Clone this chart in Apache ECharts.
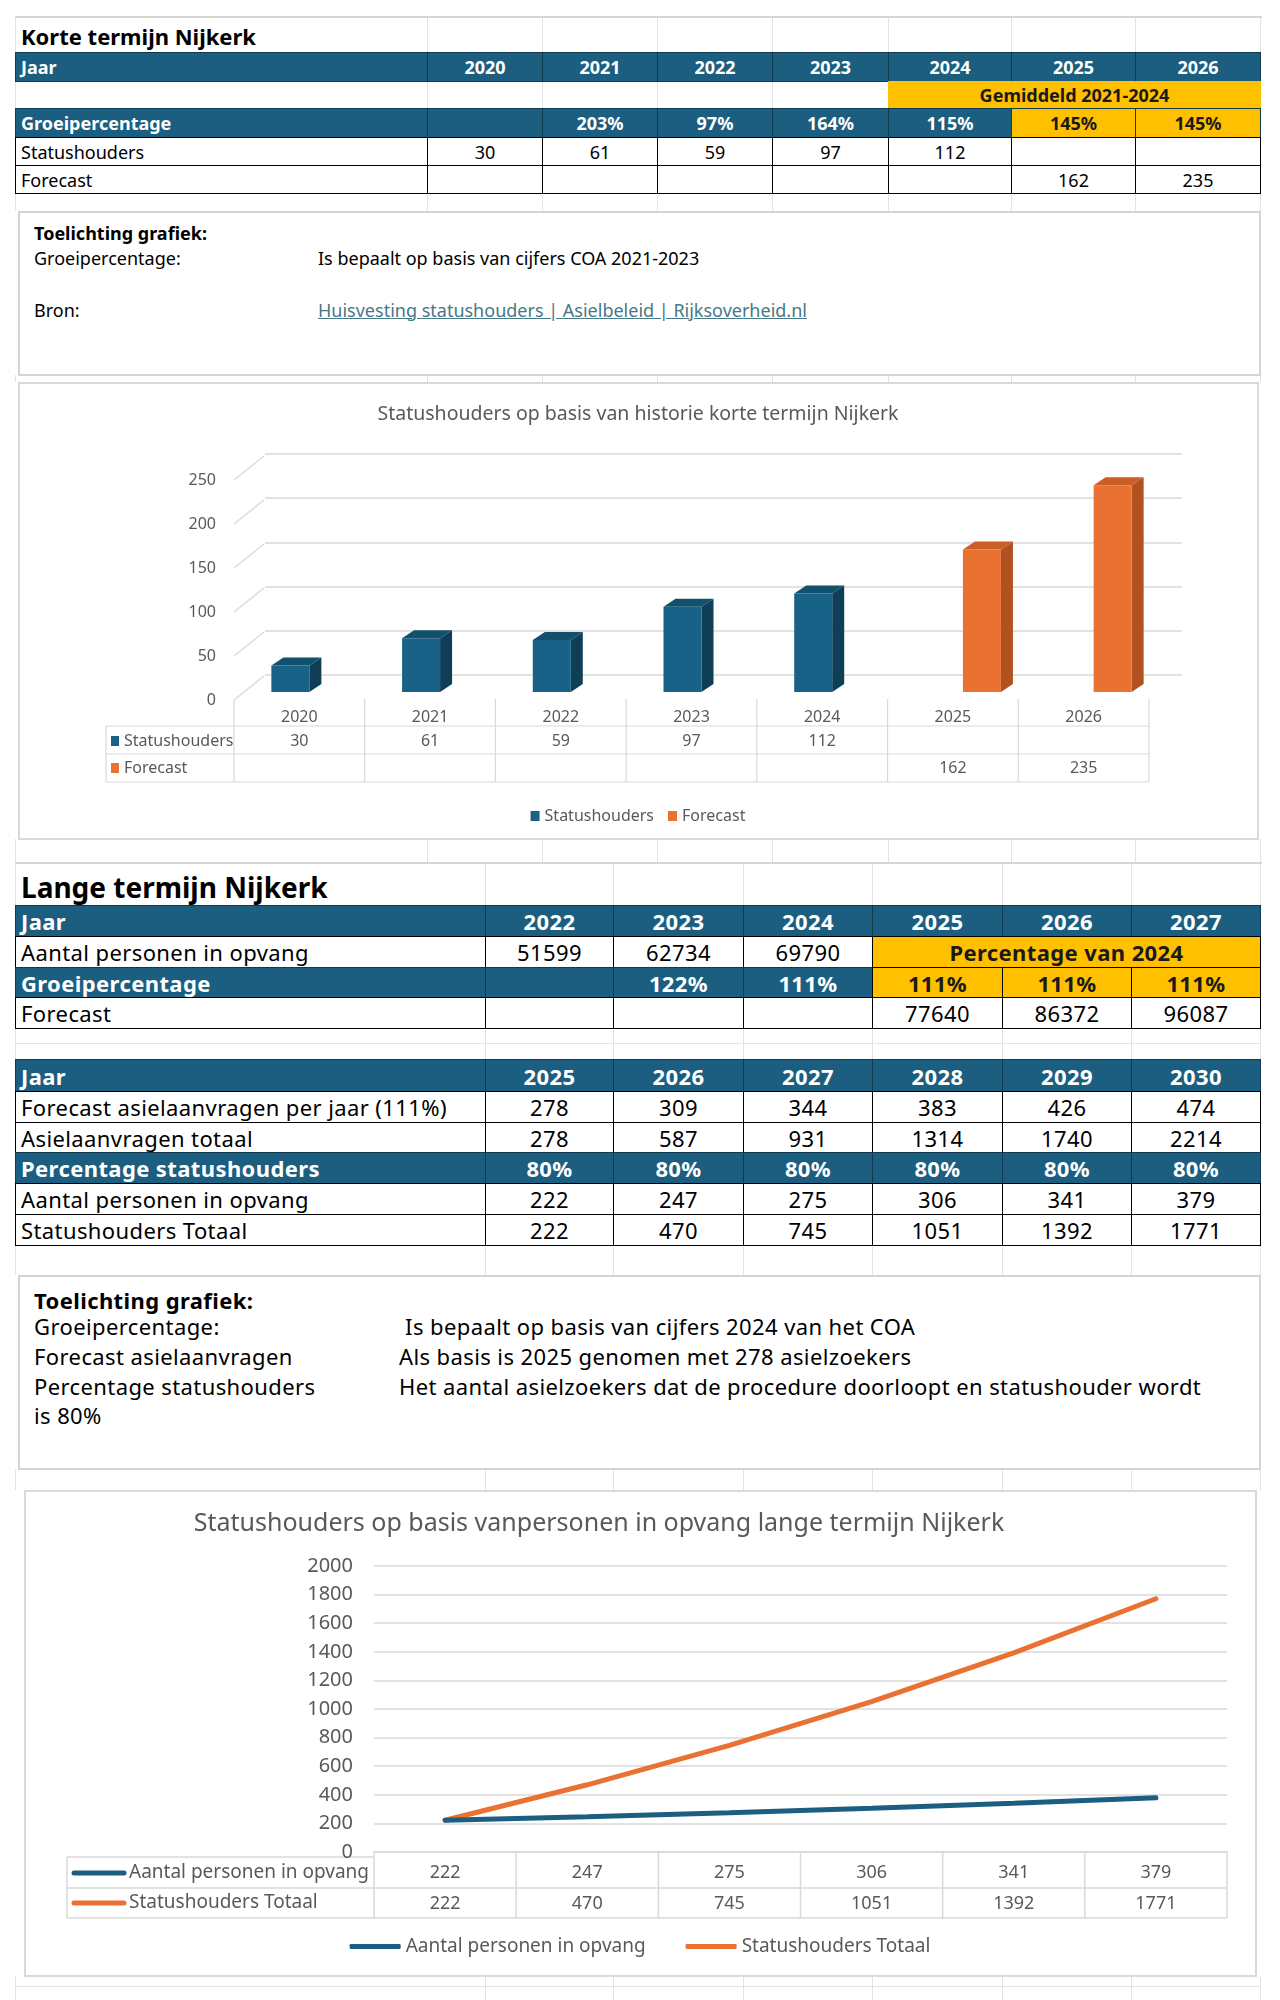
<!DOCTYPE html>
<html><head><meta charset="utf-8">
<script src="https://cdn.jsdelivr.net/npm/echarts/dist/echarts.min.js"></script>
<style>
html,body{margin:0;padding:0;background:#fff;}
#page{position:relative;width:1280px;height:2000px;overflow:hidden;font-family:'Noto Sans','Open Sans',sans-serif;}
#page div{font-family:inherit;}
</style></head>
<body><div id="page"></div>
<script>
// ---------- DATA ----------
const korteJaren = ['2020','2021','2022','2023','2024','2025','2026'];
const korteGroei = ['', '203%', '97%', '164%', '115%', '145%', '145%'];
const korteStatushouders = [30, 61, 59, 97, 112, null, null];
const korteForecast = [null, null, null, null, null, 162, 235];
const korteTicks = [0, 50, 100, 150, 200, 250];

const langeJaren = ['2022','2023','2024','2025','2026','2027'];
const opvangTotaal = [51599, 62734, 69790];
const langeGroei = ['', '122%', '111%', '111%', '111%', '111%'];
const langeForecast = [null, null, null, 77640, 86372, 96087];

const jaren2 = ['2025','2026','2027','2028','2029','2030'];
const forecastAsiel = [278, 309, 344, 383, 426, 474];
const asielTotaal = [278, 587, 931, 1314, 1740, 2214];
const pctStatus = ['80%','80%','80%','80%','80%','80%'];
const aantalOpvang = [222, 247, 275, 306, 341, 379];
const statusTotaal = [222, 470, 745, 1051, 1392, 1771];

// ---------- STYLE ----------
const FONT = "'Noto Sans','Open Sans',sans-serif";
const DARK = '#1B5E80';
const DARKB = '#0F3A50';
const YEL = '#FFC000';
const GRID = '#E3E3E3';
const GREY = '#595959';
const page = document.getElementById('page');

function el(x, y, w, h, css, text) {
  const d = document.createElement('div');
  d.style.cssText = `position:absolute;left:${x}px;top:${y}px;width:${w}px;height:${h}px;box-sizing:border-box;` + (css || '');
  if (text != null) d.textContent = text;
  page.appendChild(d);
  return d;
}
function vlines(cols, y1, y2, color) { cols.forEach(x => el(x, y1, 1, y2 - y1, 'background:' + color)); }
function hline(x1, x2, y, color, t) { el(x1, y, x2 - x1, t || 1, 'background:' + color); }
function cell(x1, x2, y1, y2, text, o) {
  o = o || {};
  const left = o.align === 'left';
  return el(x1, y1, x2 - x1 + 1, y2 - y1 + 1,
    `display:flex;align-items:center;justify-content:${left ? 'flex-start' : 'center'};padding-left:${left ? 5 : 0}px;` +
    `background:${o.bg || 'transparent'};border:${o.border || 'none'};color:${o.color || '#000'};` +
    `font-size:${o.size}px;letter-spacing:${o.ls || 0}px;font-weight:${o.bold ? 'bold' : 'normal'};white-space:nowrap;`, text == null ? '' : String(text));
}
function txt(x, yc, text, size, o) {
  o = o || {};
  return el(x, yc - size * 0.75, 1200, size * 1.5,
    `font-size:${size}px;line-height:${size * 1.5}px;white-space:pre;letter-spacing:${o.ls || 0}px;color:${o.color || '#000'};font-weight:${o.bold ? 'bold' : 'normal'};` +
    (o.underline ? 'text-decoration:underline;' : ''), text);
}

// ---------- SHEET BACKGROUND GRID ----------
const colsTop = [15, 427, 542, 657, 772, 888, 1011, 1135, 1260];
const colsLow = [15, 485, 613, 743, 872, 1002, 1131, 1260];
hline(15, 1262, 16, '#D6D6D6', 2);
vlines(colsTop, 18, 52, GRID);
vlines(colsTop, 193, 211, GRID);
vlines(colsTop, 375, 382, GRID);
vlines(colsTop, 839, 862, GRID);
hline(15, 1262, 862, '#D6D6D6', 2);
vlines(colsLow, 864, 905, GRID);
vlines(colsLow, 1028, 1059, GRID);
hline(15, 1260, 1043, GRID);
vlines(colsLow, 1245, 1275, GRID);
vlines(colsLow, 1469, 1490, GRID);
vlines(colsLow, 1976, 2000, GRID);
hline(15, 1260, 1986, GRID);
vlines(colsTop.slice(0, 6), 81, 108, GRID);

// ---------- KORTE TERMIJN TABLE ----------
txt(21, 36, 'Korte termijn Nijkerk', 22, { bold: true });
const S1 = 18;
const hdr = { bg: DARK, border: '1px solid ' + DARKB, color: '#fff', bold: true, size: S1 };
const wht = { border: '1px solid #000', size: S1 };
const yel = { bg: YEL, border: '1px solid ' + DARKB, color: '#1a1a1a', bold: true, size: S1 };
cell(colsTop[0], colsTop[1], 52, 81, 'Jaar', Object.assign({ align: 'left' }, hdr));
korteJaren.forEach((j, i) => cell(colsTop[i + 1], colsTop[i + 2], 52, 81, j, hdr));
cell(colsTop[5], colsTop[8], 81, 108, 'Gemiddeld 2021-2024', Object.assign({}, yel, { border: 'none' }));
cell(colsTop[0], colsTop[1], 108, 137, 'Groeipercentage', Object.assign({ align: 'left' }, hdr));
korteGroei.forEach((g, i) => cell(colsTop[i + 1], colsTop[i + 2], 108, 137, g, i >= 5 ? yel : hdr));
cell(colsTop[0], colsTop[1], 137, 165, 'Statushouders', Object.assign({ align: 'left' }, wht));
korteStatushouders.forEach((v, i) => cell(colsTop[i + 1], colsTop[i + 2], 137, 165, v, wht));
cell(colsTop[0], colsTop[1], 165, 193, 'Forecast', Object.assign({ align: 'left' }, wht));
korteForecast.forEach((v, i) => cell(colsTop[i + 1], colsTop[i + 2], 165, 193, v, wht));

// Toelichting 1
el(18, 211, 1243, 165, 'border:2px solid #D4D4D4;background:#fff;');
txt(34, 233, 'Toelichting grafiek:', 18, { bold: true });
txt(34, 258, 'Groeipercentage:', 18);
txt(318, 258, 'Is bepaalt op basis van cijfers COA 2021-2023', 18);
txt(34, 310, 'Bron:', 18);
txt(318, 310, 'Huisvesting statushouders | Asielbeleid | Rijksoverheid.nl', 18, { color: '#467886', underline: true });

// chart 1 box
el(18, 382, 1241, 458, 'border:2px solid #D9D9D9;background:#fff;');
const c1 = el(18, 382, 1240, 457, '');

// ---------- LANGE TERMIJN TABLES ----------
txt(21, 887, 'Lange termijn Nijkerk', 28, { bold: true });
const S2 = 22, LS2 = 0.4;
const hdr2 = Object.assign({}, hdr, { size: S2, ls: LS2 });
const wht2 = Object.assign({}, wht, { size: S2, ls: LS2 });
const yel2 = Object.assign({}, yel, { size: S2, ls: LS2, border: '1px solid #000' });
cell(colsLow[0], colsLow[1], 905, 936, 'Jaar', Object.assign({ align: 'left' }, hdr2));
langeJaren.forEach((j, i) => cell(colsLow[i + 1], colsLow[i + 2], 905, 936, j, hdr2));
cell(colsLow[0], colsLow[1], 936, 967, 'Aantal personen in opvang', Object.assign({ align: 'left' }, wht2));
opvangTotaal.forEach((v, i) => cell(colsLow[i + 1], colsLow[i + 2], 936, 967, v, wht2));
cell(colsLow[4], colsLow[7], 936, 967, 'Percentage van 2024', yel2);
cell(colsLow[0], colsLow[1], 967, 997, 'Groeipercentage', Object.assign({ align: 'left' }, hdr2));
langeGroei.forEach((g, i) => cell(colsLow[i + 1], colsLow[i + 2], 967, 997, g, i >= 3 ? yel2 : hdr2));
cell(colsLow[0], colsLow[1], 997, 1028, 'Forecast', Object.assign({ align: 'left' }, wht2));
langeForecast.forEach((v, i) => cell(colsLow[i + 1], colsLow[i + 2], 997, 1028, v, wht2));

const rows2 = [
  ['Jaar', jaren2, hdr2, 1059, 1091],
  ['Forecast asielaanvragen per jaar (111%)', forecastAsiel, wht2, 1091, 1122],
  ['Asielaanvragen totaal', asielTotaal, wht2, 1122, 1152],
  ['Percentage statushouders', pctStatus, hdr2, 1152, 1183],
  ['Aantal personen in opvang', aantalOpvang, wht2, 1183, 1214],
  ['Statushouders Totaal', statusTotaal, wht2, 1214, 1245]
];
rows2.forEach(r => {
  cell(colsLow[0], colsLow[1], r[3], r[4], r[0], Object.assign({ align: 'left' }, r[2]));
  r[1].forEach((v, i) => cell(colsLow[i + 1], colsLow[i + 2], r[3], r[4], v, r[2]));
});

// Toelichting 2
el(18, 1275, 1243, 195, 'border:2px solid #D4D4D4;background:#fff;');
const T2o = { ls: LS2 };
txt(34, 1300, 'Toelichting grafiek:', 22, { bold: true, ls: LS2 });
txt(34, 1326, 'Groeipercentage:', 22, T2o);
txt(399, 1326, ' Is bepaalt op basis van cijfers 2024 van het COA', 22, T2o);
txt(34, 1356, 'Forecast asielaanvragen', 22, T2o);
txt(399, 1356, 'Als basis is 2025 genomen met 278 asielzoekers', 22, T2o);
txt(34, 1386, 'Percentage statushouders', 22, T2o);
txt(399, 1386, 'Het aantal asielzoekers dat de procedure doorloopt en statushouder wordt', 22, T2o);
txt(34, 1415, 'is 80%', 22, T2o);

// chart 2 box
el(24, 1490, 1233, 487, 'border:2px solid #D9D9D9;background:#fff;');
const c2 = el(24, 1490, 1232, 486, '');

// ---------- CHART 1: 3D-look columns ----------
const chart1 = echarts.init(c1, null, { renderer: 'canvas' });
const fL = 216, fW = 915, fT = 98, fH = 220;   // front grid (labels, data table)
const catW1 = fW / 7;
const palette1 = {
  Statushouders: { front: '#186187', side: '#0E3F57', top: '#12506E', off: -1 },
  Forecast: { front: '#E97132', side: '#B0511F', top: '#C95E26', off: 0 }
};
function box3d(params, api) {
  const v = api.value(1);
  if (v == null || isNaN(v)) return;
  const p = palette1[params.seriesName];
  const t = api.coord([api.value(0), v]);
  const b = api.coord([api.value(0), 0]);
  const w = 38, dx = 12, dy = 8;
  const x0 = t[0] + p.off * w, x1 = x0 + w, yt = t[1], yb = b[1];
  return {
    type: 'group', children: [
      { type: 'polygon', shape: { points: [[x1, yt], [x1 + dx, yt - dy], [x1 + dx, yb - dy], [x1, yb]] }, style: { fill: p.side } },
      { type: 'polygon', shape: { points: [[x0, yt], [x0 + dx, yt - dy], [x1 + dx, yt - dy], [x1, yt]] }, style: { fill: p.top } },
      { type: 'rect', shape: { x: x0, y: yt, width: w, height: yb - yt }, style: { fill: p.front } }
    ]
  };
}
function wallLine(params, api) {
  const cs = params.coordSys;
  const y = api.coord([0, api.value(1)])[1];
  return { type: 'line', shape: { x1: cs.x, y1: y, x2: cs.x + 30, y2: y - 24 }, style: { stroke: '#D9D9D9', lineWidth: 1.5 } };
}
const fmtBlank = v => (v === 'null' || v === '' || v == null) ? '' : v;
const g1 = [];
for (let k = 0; k <= 7; k++) {
  const x = fL + k * catW1;
  g1.push({ type: 'line', shape: { x1: x, y1: 317, x2: x, y2: 400 }, style: { stroke: '#D9D9D9', lineWidth: 1.2 } });
}
[344, 372, 400].forEach(y => g1.push({ type: 'line', shape: { x1: 88, y1: y, x2: fL + fW, y2: y }, style: { stroke: '#D9D9D9', lineWidth: 1.2 } }));
g1.push({ type: 'line', shape: { x1: 88, y1: 344, x2: 88, y2: 400 }, style: { stroke: '#D9D9D9', lineWidth: 1.2 } });
g1.push({ type: 'rect', shape: { x: 93, y: 354, width: 8, height: 10 }, style: { fill: palette1.Statushouders.front } });
g1.push({ type: 'text', x: 106, y: 359, style: { text: 'Statushouders', fill: GREY, fontSize: 16, fontFamily: FONT, verticalAlign: 'middle' } });
g1.push({ type: 'rect', shape: { x: 93, y: 381, width: 8, height: 10 }, style: { fill: palette1.Forecast.front } });
g1.push({ type: 'text', x: 106, y: 386, style: { text: 'Forecast', fill: GREY, fontSize: 16, fontFamily: FONT, verticalAlign: 'middle' } });

const hiddenY = { min: 0, max: 250, interval: 50, axisLabel: { show: false }, axisLine: { show: false }, axisTick: { show: false }, splitLine: { show: false } };
chart1.setOption({
  animation: false,
  textStyle: { fontFamily: FONT },
  title: { text: 'Statushouders op basis van historie korte termijn Nijkerk', left: 'center', top: 17,
    textStyle: { fontSize: 19.5, fontWeight: 'normal', color: GREY, fontFamily: FONT } },
  legend: { top: 421, left: 'center', itemWidth: 9, itemHeight: 10, itemGap: 14, icon: 'rect',
    data: ['Statushouders', 'Forecast'], textStyle: { fontSize: 16, color: GREY, fontFamily: FONT } },
  grid: [
    { left: fL, top: fT, width: fW, height: fH },
    { left: 247, top: 72, width: 917, height: 221 },
    { left: fL + 10, top: 90, width: fW, height: 220 }
  ],
  xAxis: [
    { type: 'category', gridIndex: 0, data: korteJaren, axisLine: { show: false }, axisTick: { show: false },
      axisLabel: { margin: 9, fontSize: 16, color: GREY, fontFamily: FONT } },
    { type: 'category', gridIndex: 0, data: korteStatushouders.map(String), position: 'bottom', offset: 24,
      axisLine: { show: false }, axisTick: { show: false }, axisLabel: { margin: 9, fontSize: 16, color: GREY, formatter: fmtBlank, fontFamily: FONT } },
    { type: 'category', gridIndex: 0, data: korteForecast.map(String), position: 'bottom', offset: 51,
      axisLine: { show: false }, axisTick: { show: false }, axisLabel: { margin: 9, fontSize: 16, color: GREY, formatter: fmtBlank, fontFamily: FONT } },
    { type: 'category', gridIndex: 1, data: korteJaren, show: false },
    { type: 'category', gridIndex: 2, data: korteJaren, show: false }
  ],
  yAxis: [
    { type: 'value', gridIndex: 0, min: 0, max: 250, interval: 50, axisLine: { show: false }, axisTick: { show: false },
      splitLine: { show: false }, axisLabel: { margin: 18, fontSize: 16, color: GREY, fontFamily: FONT } },
    Object.assign({ type: 'value', gridIndex: 1 }, hiddenY, { splitLine: { show: true, lineStyle: { color: '#D9D9D9', width: 1.5 } } }),
    Object.assign({ type: 'value', gridIndex: 2 }, hiddenY)
  ],
  series: [
    { type: 'custom', name: 'wall', xAxisIndex: 0, yAxisIndex: 0, renderItem: wallLine, silent: true,
      data: korteTicks.map(t => [0, t]), z: 1 },
    { type: 'custom', name: 'Statushouders', xAxisIndex: 4, yAxisIndex: 2, renderItem: box3d,
      itemStyle: { color: palette1.Statushouders.front },
      data: korteStatushouders.map((v, i) => v == null ? null : [i, v]).filter(Boolean), z: 5 },
    { type: 'custom', name: 'Forecast', xAxisIndex: 4, yAxisIndex: 2, renderItem: box3d,
      itemStyle: { color: palette1.Forecast.front },
      data: korteForecast.map((v, i) => v == null ? null : [i, v]).filter(Boolean), z: 5 }
  ],
  graphic: g1
});

// ---------- CHART 2: lines ----------
const chart2 = echarts.init(c2, null, { renderer: 'canvas' });
const L2 = 350, W2 = 853, T2 = 76, H2 = 286;
const catW2 = W2 / 6;
const BLUE2 = '#1B5E80', ORANGE2 = '#E97132';
const g2 = [];
for (let k = 0; k <= 6; k++) {
  const x = L2 + k * catW2;
  g2.push({ type: 'line', shape: { x1: x, y1: T2 + H2, x2: x, y2: 428 }, style: { stroke: '#D9D9D9', lineWidth: 1.5 } });
}
g2.push({ type: 'line', shape: { x1: 43, y1: 367, x2: L2, y2: 367 }, style: { stroke: '#D9D9D9', lineWidth: 1.5 } });
g2.push({ type: 'line', shape: { x1: 43, y1: 398, x2: L2 + W2, y2: 398 }, style: { stroke: '#D9D9D9', lineWidth: 1.5 } });
g2.push({ type: 'line', shape: { x1: 43, y1: 428, x2: L2 + W2, y2: 428 }, style: { stroke: '#D9D9D9', lineWidth: 1.5 } });
g2.push({ type: 'line', shape: { x1: 43, y1: 367, x2: 43, y2: 428 }, style: { stroke: '#D9D9D9', lineWidth: 1.5 } });
g2.push({ type: 'line', shape: { x1: 50, y1: 383, x2: 100, y2: 383 }, style: { stroke: BLUE2, lineWidth: 5, lineCap: 'round' } });
g2.push({ type: 'text', x: 105, y: 383, style: { text: 'Aantal personen in opvang', fill: GREY, fontSize: 19, fontFamily: FONT, verticalAlign: 'middle' } });
g2.push({ type: 'line', shape: { x1: 50, y1: 413, x2: 100, y2: 413 }, style: { stroke: ORANGE2, lineWidth: 5, lineCap: 'round' } });
g2.push({ type: 'text', x: 105, y: 413, style: { text: 'Statushouders Totaal', fill: GREY, fontSize: 19, fontFamily: FONT, verticalAlign: 'middle' } });

chart2.setOption({
  animation: false,
  textStyle: { fontFamily: FONT },
  title: { text: 'Statushouders op basis vanpersonen in opvang lange termijn Nijkerk', left: 570, textAlign: 'center', top: 16,
    textStyle: { fontSize: 25, fontWeight: 'normal', color: GREY, fontFamily: FONT } },
  legend: { top: 442, left: 'center', icon: 'roundRect', itemWidth: 51, itemHeight: 5, itemGap: 40,
    data: ['Aantal personen in opvang', 'Statushouders Totaal'], textStyle: { fontSize: 19, color: GREY, fontFamily: FONT } },
  grid: { left: L2, top: T2, width: W2, height: H2 },
  xAxis: [
    { type: 'category', data: jaren2, axisLine: { show: true, lineStyle: { color: '#D9D9D9', width: 1.5 } }, axisTick: { show: false }, axisLabel: { show: false } },
    { type: 'category', data: aantalOpvang.map(String), position: 'bottom', offset: 4, axisLine: { show: false }, axisTick: { show: false },
      axisLabel: { margin: 8, fontSize: 18, color: GREY, fontFamily: FONT } },
    { type: 'category', data: statusTotaal.map(String), position: 'bottom', offset: 35, axisLine: { show: false }, axisTick: { show: false },
      axisLabel: { margin: 8, fontSize: 18, color: GREY, fontFamily: FONT } }
  ],
  yAxis: { type: 'value', min: 0, max: 2000, interval: 200, axisLine: { show: false }, axisTick: { show: false },
    axisLabel: { margin: 21, fontSize: 20, color: GREY, fontFamily: FONT, formatter: v => String(v) },
    splitLine: { lineStyle: { color: '#D9D9D9', width: 1.5 } } },
  series: [
    { type: 'line', name: 'Aantal personen in opvang', data: aantalOpvang, showSymbol: false, symbol: 'none',
      lineStyle: { width: 5, color: BLUE2, cap: 'round' }, itemStyle: { color: BLUE2 }, z: 3 },
    { type: 'line', name: 'Statushouders Totaal', data: statusTotaal, showSymbol: false, symbol: 'none',
      lineStyle: { width: 5, color: ORANGE2, cap: 'round' }, itemStyle: { color: ORANGE2 }, z: 2 }
  ],
  graphic: g2
});
</script>
</body></html>
